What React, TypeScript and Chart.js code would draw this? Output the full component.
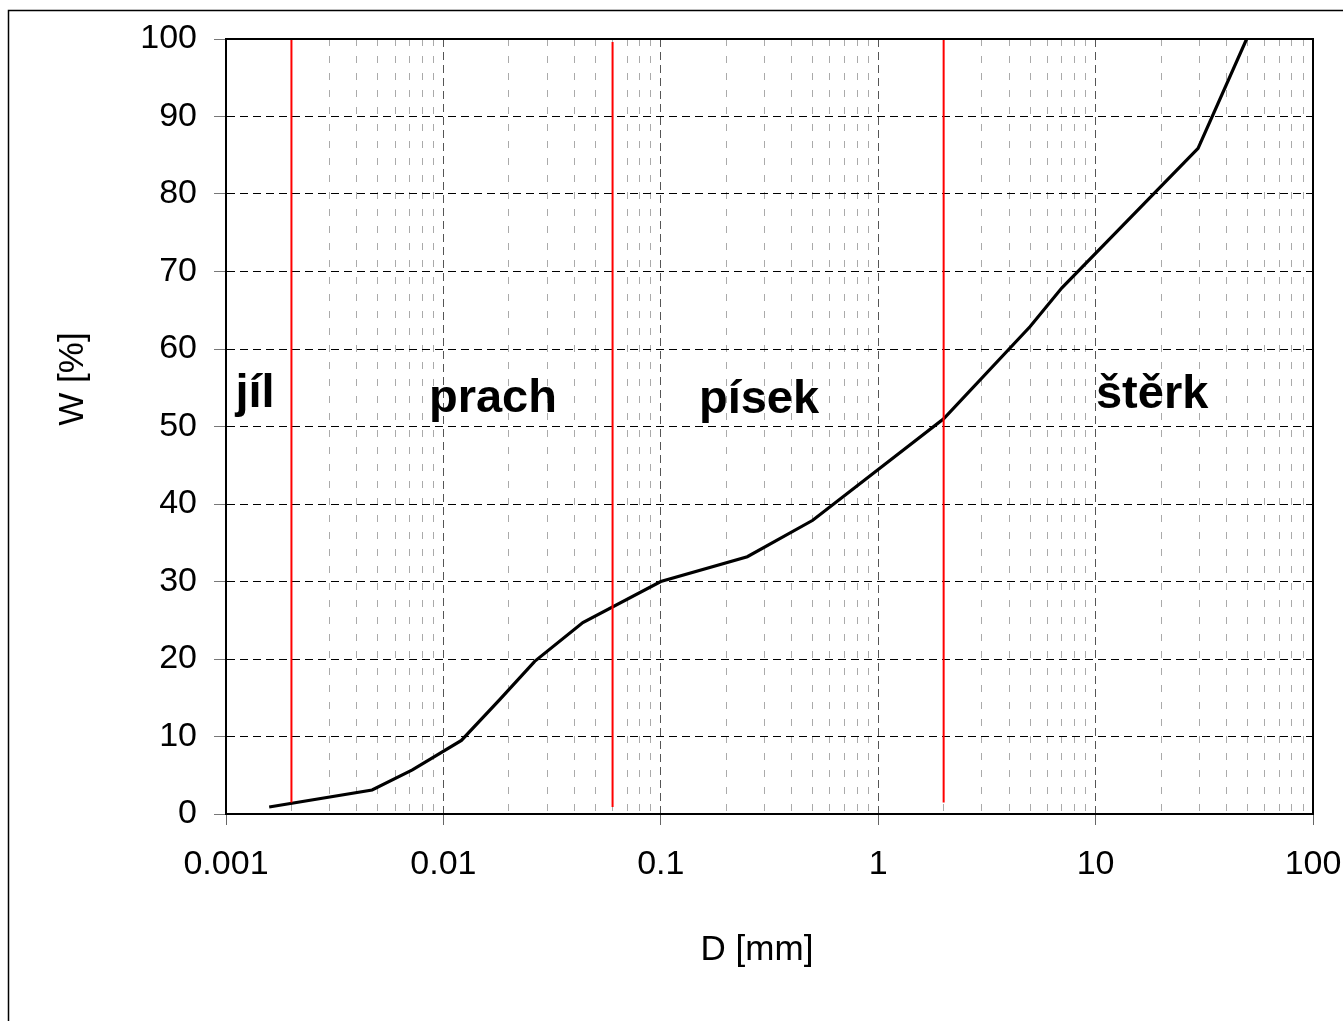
import React, { useEffect, useRef } from "react";
import { Chart, registerables } from "chart.js";

Chart.register(...registerables);

// Grain size curve (D in mm, W = passing %)
const diameters = [0.00158, 0.0047, 0.0072, 0.0121, 0.0182, 0.0263, 0.0438, 0.1, 0.25, 0.5, 2, 5, 7, 29.6, 49.5];
const passing = [0.9, 3.1, 5.7, 9.5, 14.8, 19.7, 24.7, 30.0, 33.2, 37.9, 51.0, 62.9, 67.9, 85.9, 100];

// Red boundary lines between soil fractions
const boundaryD = [0.002, 0.06, 2];
const boundaryTop = [100, 99.6, 100];
const boundaryBottom = [1.5, 0.9, 1.5];

// Fraction labels
const zoneNames = ["jíl", "prach", "písek", "štěrk"];
const zoneD = [0.00136, 0.0169, 0.283, 18.2];
const zoneW = [52.5, 51.9, 51.7, 52.4];

// Axis ticks
const xDecades = [0.001, 0.01, 0.1, 1, 10, 100];
const xTickLabels = ["0.001", "0.01", "0.1", "1", "10", "100"];
const minorMultipliers = [2, 3, 4, 5, 6, 7, 8, 9];
const yTickValues = [0, 10, 20, 30, 40, 50, 60, 70, 80, 90, 100];

const xTitle = "D [mm]";
const yTitle = "W [%]";

const FONT = '"Liberation Sans", Arial, sans-serif';

function decadeIndex(v: number): number {
  for (let i = 0; i < xDecades.length; i++) {
    if (Math.abs(v - xDecades[i]) / xDecades[i] < 1e-6) return i;
  }
  return -1;
}

function buildXTicks(): number[] {
  const out: number[] = [];
  for (let i = 0; i < xDecades.length - 1; i++) {
    out.push(xDecades[i]);
    for (const m of minorMultipliers) out.push(parseFloat((xDecades[i] * m).toPrecision(6)));
  }
  out.push(xDecades[xDecades.length - 1]);
  return out;
}

const framePlugin = {
  id: "frameAndText",
  afterDraw(chart: any) {
    const { ctx, chartArea } = chart;
    const xs = chart.scales.x;
    const ys = chart.scales.y;
    ctx.save();
    // plot-area frame
    ctx.strokeStyle = "#000";
    ctx.lineWidth = 2;
    ctx.setLineDash([]);
    ctx.strokeRect(chartArea.left, chartArea.top, chartArea.right - chartArea.left, chartArea.bottom - chartArea.top);
    // outer frame
    ctx.lineWidth = 1.5;
    ctx.strokeRect(8.5, 10.5, 3000, 3000);
    // zone labels
    ctx.fillStyle = "#000";
    ctx.font = "bold 47px " + FONT;
    ctx.textAlign = "center";
    ctx.textBaseline = "alphabetic";
    for (let i = 0; i < zoneNames.length; i++) {
      ctx.fillText(zoneNames[i], xs.getPixelForValue(zoneD[i]), ys.getPixelForValue(zoneW[i]));
    }
    // axis titles
    ctx.font = "35px " + FONT;
    ctx.fillText(xTitle, 757, 960);
    ctx.translate(83, 379);
    ctx.rotate(-Math.PI / 2);
    ctx.fillText(yTitle, 0, 0);
    ctx.restore();
  },
};

export default function App() {
  const canvasRef = useRef<HTMLCanvasElement | null>(null);

  useEffect(() => {
    if (!canvasRef.current) return;
    const redSets = boundaryD.map((d, i) => ({
      label: "b" + i,
      data: [
        { x: d, y: boundaryTop[i] },
        { x: d, y: boundaryBottom[i] },
      ],
      borderColor: "#ff0000",
      borderWidth: 2,
      pointRadius: 0,
      fill: false,
    }));
    const chart = new Chart(canvasRef.current, {
      type: "line",
      data: {
        datasets: [
          ...redSets,
          {
            label: "W",
            data: diameters.map((d, i) => ({ x: d, y: passing[i] })),
            borderColor: "#000",
            borderWidth: 3.2,
            pointRadius: 0,
            tension: 0,
            fill: false,
          },
        ],
      },
      options: {
        responsive: false,
        animation: false,
        devicePixelRatio: 1,
        layout: { padding: { top: 39, right: 30, left: 0, bottom: 0 } },
        plugins: { legend: { display: false }, tooltip: { enabled: false } },
        scales: {
          x: {
            type: "logarithmic",
            min: 0.001,
            max: 100,
            afterBuildTicks: (scale: any) => {
              scale.ticks = buildXTicks().map((v) => ({ value: v }));
            },
            afterFit: (scale: any) => {
              scale.height = 207;
              scale.paddingLeft = 0;
              scale.paddingRight = 0;
            },
            ticks: {
              autoSkip: false,
              maxRotation: 0,
              minRotation: 0,
              padding: 19,
              color: "#000",
              font: { family: FONT, size: 34 },
              callback: (value: any) => {
                const k = decadeIndex(Number(value));
                return k >= 0 ? xTickLabels[k] : "";
              },
            },
            grid: {
              color: (ctx: any) => (ctx.tick && decadeIndex(ctx.tick.value) >= 0 ? "#555" : "#aaa"),
              tickColor: (ctx: any) => (ctx.tick && decadeIndex(ctx.tick.value) >= 0 ? "#666" : "rgba(0,0,0,0)"),
              lineWidth: 1,
              tickLength: 11,
            },
            border: {
              display: true,
              color: "#000",
              width: 2,
              dash: (ctx: any) => (ctx.tick && decadeIndex(ctx.tick.value) >= 0 ? [8, 5] : [7, 10]),
            },
          },
          y: {
            type: "linear",
            min: 0,
            max: 100,
            afterBuildTicks: (scale: any) => {
              scale.ticks = yTickValues.map((v) => ({ value: v }));
            },
            afterFit: (scale: any) => {
              scale.width = 226;
            },
            ticks: {
              padding: 17,
              color: "#000",
              font: { family: FONT, size: 34 },
              callback: (value: any) => String(value),
            },
            grid: {
              color: "#000",
              tickColor: "#777",
              lineWidth: 1,
              tickLength: 12,
            },
            border: {
              display: true,
              color: "#000",
              width: 2,
              dash: [8, 5],
            },
          },
        },
      },
      plugins: [framePlugin],
    } as any);
    return () => chart.destroy();
  }, []);

  return (
    <div style={{ position: "fixed", left: 0, top: 0, width: 1343, height: 1021, background: "#fff" }}>
      <canvas ref={canvasRef} width={1343} height={1021} style={{ width: 1343, height: 1021, display: "block" }} />
    </div>
  );
}
